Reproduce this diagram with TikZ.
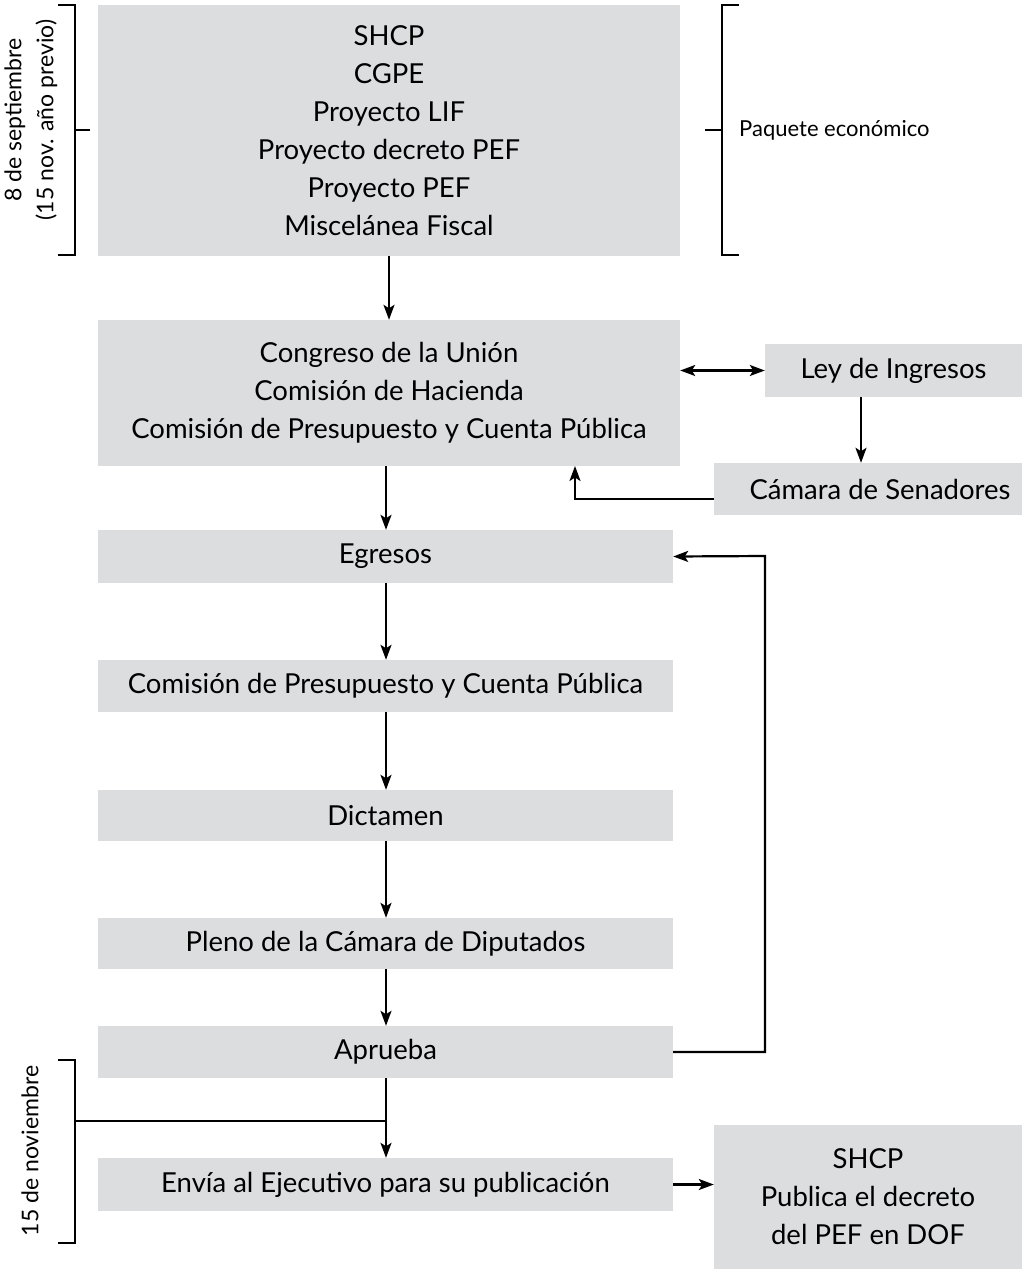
\documentclass[tikz,border=0pt]{standalone}
\usepackage{fontspec}
\setmainfont{Lato}
\usetikzlibrary{arrows.meta,calc}
\definecolor{boxgray}{HTML}{DCDDDF}
\begin{document}
\begin{tikzpicture}[x=1pt,y=-1pt,
  box/.style={fill=boxgray, inner sep=0pt, align=center, font=\fontsize{27.5}{38}\selectfont},
  sbox/.style={box, yshift=-2pt, text depth=0pt, text height=0.72em, align=none},
  conn/.style={line width=2.2pt, -{Stealth[length=15pt,width=11pt,inset=3.5pt]}},
  dconn/.style={line width=2.2pt, {Stealth[length=15pt,width=11pt,inset=3.5pt]}-{Stealth[length=15pt,width=11pt,inset=3.5pt]}},
  brk/.style={line width=2.2pt},
  side/.style={font=\fontsize{23}{32}\selectfont, align=center}]
\useasboundingbox (0,0) rectangle (1028,1269);
% boxes
\node[box, minimum width=582pt, minimum height=251pt] (shcp) at (389,130.5)
  {SHCP\\CGPE\\Proyecto LIF\\Proyecto decreto PEF\\Proyecto PEF\\Miscelánea Fiscal};
\node[box, minimum width=582pt, minimum height=146pt] (cong) at (389,393)
  {Congreso de la Unión\\Comisión de Hacienda\\Comisión de Presupuesto y Cuenta Pública};
\node[box, minimum width=257pt, minimum height=53pt] (ley) at (893.5,370.5) {Ley de Ingresos};
\node[box, minimum width=308pt, minimum height=52pt] (cam) at (868,489) {\hspace*{24pt}Cámara de Senadores};
\node[box, minimum width=575pt, minimum height=53pt] (egr) at (385.5,556.5) {Egresos};
\node[box, minimum width=575pt, minimum height=52pt] (com) at (385.5,686) {Comisión de Presupuesto y Cuenta Pública};
\node[box, minimum width=575pt, minimum height=51pt] (dic) at (385.5,815.5) {Dictamen};
\node[box, minimum width=575pt, minimum height=51pt] (ple) at (385.5,943.5) {Pleno de la Cámara de Diputados};
\node[box, minimum width=575pt, minimum height=52pt] (apr) at (385.5,1052) {Aprueba};
\node[box, minimum width=575pt, minimum height=53pt] (env) at (385.5,1184.5) {Envía al Ejecutivo para su publicación};
\node[box, minimum width=308pt, minimum height=144pt] (pub) at (868,1197) {SHCP\\Publica el decreto\\del PEF en DOF};
% side labels
\node[side, rotate=90] (sept) at (31,120) {8 de septiembre\\(15 nov. año previo)};
\node[side, rotate=90] (nov) at (30,1151) {15 de noviembre};
\node[font=\fontsize{22}{26}\selectfont, anchor=west, inner sep=0pt] (paq) at (739,130) {Paquete económico};
% brackets
\draw[brk] (58,5) -- (75,5) -- (75,255) -- (58,255);
\draw[brk] (75,130) -- (90,130);
\draw[brk] (739,5) -- (722,5) -- (722,255) -- (739,255);
\draw[brk] (722,130) -- (705,130);
\draw[brk] (58,1060) -- (75,1060) -- (75,1243) -- (58,1243);
\coordinate (j) at (386,1121);
\draw[brk] (75,1121) -- (j);
% connectors
\draw[conn] (shcp.south) -- (cong.north);
\draw[dconn] (cong.east |- ley.west) -- (ley.west);
\draw[conn] (ley.south -| 861,0) -- (cam.north -| 861,0);
\draw[conn] (cam.west |- 0,499) -- (575,499) -- (575,466);
\draw[conn] (cong.south -| 386,0) -- (egr.north -| 386,0);
\draw[conn] (egr.south -| 386,0) -- (com.north -| 386,0);
\draw[conn] (com.south -| 386,0) -- (dic.north -| 386,0);
\draw[conn] (dic.south -| 386,0) -- (ple.north -| 386,0);
\draw[conn] (ple.south -| 386,0) -- (apr.north -| 386,0);
\draw[conn] (apr.south -| 386,0) -- (env.north -| 386,0);
\draw[conn] (apr.east) -- (765,1052) -- (765,556) -- (egr.east);
\draw[conn] (env.east) -- (pub.west |- env.east);
\end{tikzpicture}
\end{document}
